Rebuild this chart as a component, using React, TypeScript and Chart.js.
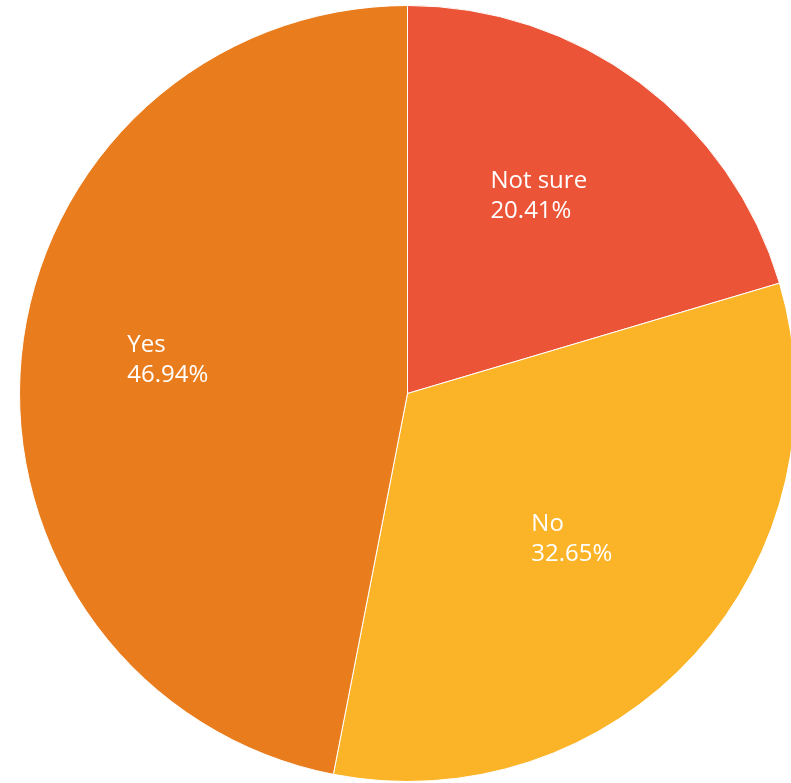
import React, { useEffect, useRef } from "react";
import { Chart, registerables } from "chart.js";

Chart.register(...registerables);

const categories: string[] = ["Not sure", "No", "Yes"];
const percentages: number[] = [20.41, 32.65, 46.94];
const sliceColors: string[] = ["#EC5437", "#FBB427", "#E97D1E"];

const labelPlugin = {
  id: "sliceLabels",
  afterDatasetsDraw(chart: any) {
    const ctx = chart.ctx;
    const meta = chart.getDatasetMeta(0);
    ctx.save();
    ctx.fillStyle = "#ffffff";
    ctx.font = "24px 'Open Sans', sans-serif";
    ctx.textAlign = "left";
    ctx.textBaseline = "middle";
    meta.data.forEach((arc: any, i: number) => {
      const p = arc.getProps(["x", "y", "startAngle", "endAngle", "outerRadius"], true);
      const mid = (p.startAngle + p.endAngle) / 2;
      const d = p.outerRadius * 0.6;
      const cx = p.x + Math.cos(mid) * d - 8;
      const cy = p.y + Math.sin(mid) * d - 11;
      const l1 = categories[i];
      const l2 = percentages[i].toFixed(2) + "%";
      const w = Math.max(ctx.measureText(l1).width, ctx.measureText(l2).width);
      const x = cx - w / 2;
      ctx.fillText(l1, x, cy - 15);
      ctx.fillText(l2, x, cy + 15);
    });
    ctx.restore();
  },
};

export default function App() {
  const ref = useRef<HTMLCanvasElement | null>(null);
  useEffect(() => {
    if (!ref.current) return;
    const chart = new Chart(ref.current, {
      type: "pie",
      data: {
        labels: categories,
        datasets: [
          {
            data: percentages,
            backgroundColor: sliceColors,
            borderColor: "#ffffff",
            borderWidth: 1,
          },
        ],
      },
      options: {
        animation: false,
        responsive: false,
        maintainAspectRatio: false,
        layout: { padding: 0 },
        plugins: {
          legend: { display: false },
          tooltip: { enabled: false },
        },
      },
      plugins: [labelPlugin],
    });
    return () => chart.destroy();
  }, []);
  return (
    <div
      style={{
        position: "fixed",
        left: 0,
        top: 0,
        width: 791,
        height: 783,
        overflow: "hidden",
        background: "#ffffff",
      }}
    >
      <canvas
        ref={ref}
        width={777}
        height={777}
        style={{ position: "absolute", left: 19, top: 5, width: 777, height: 777 }}
      />
    </div>
  );
}
